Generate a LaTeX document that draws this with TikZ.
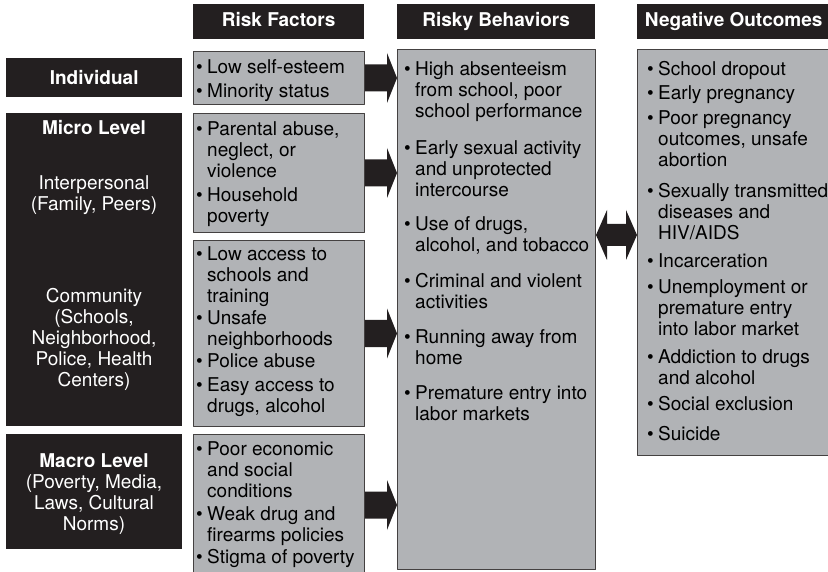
\documentclass[tikz,border=0pt]{standalone}
\usepackage{fontspec}
\setmainfont{TeX Gyre Heros}
\usetikzlibrary{calc}
\definecolor{ink}{RGB}{35,31,32}
\definecolor{boxgray}{RGB}{177,179,182}
\newcommand\bt{\makebox[11pt][l]{\textbullet}}
\newcommand\bi{\hspace*{11pt}}
\begin{document}
\begin{tikzpicture}[x=1pt,y=-1pt,line join=round,
    font=\fontsize{19}{21}\selectfont,
    dark/.style={fill=ink,text=white,inner sep=0pt,anchor=north west},
    colhead/.style={dark,font=\fontsize{19}{21}\selectfont\bfseries,
      minimum height=35pt,text height=13.6pt,text depth=4pt},
    panel/.style={fill=boxgray,draw=ink!85,line width=1pt,inner sep=0pt,anchor=north west},
    items/.style={align=left,inner sep=0pt,anchor=north west},
    lbl/.style={text=white,align=center,inner sep=0pt}]
  \useasboundingbox (0,0) rectangle (828,572);
  % column heads
  \node[colhead,minimum width=171pt] (hrf) at (193,4) {Risk Factors};
  \node[colhead,minimum width=198pt] (hrb) at (397,4) {Risky Behaviors};
  \node[colhead,minimum width=193pt] (hno) at (637,4) {Negative Outcomes};
  % levels
  \node[dark,minimum width=176pt,minimum height=39pt] (ind) at (6,58) {};
  \node[dark,minimum width=176pt,minimum height=313pt] (mic) at (6,113) {};
  \node[dark,minimum width=176pt,minimum height=115pt] (mac) at (6,434) {};
  \node[lbl] (indl) at (ind.center) {\textbf{Individual}};
  \node[lbl] (micl) at (94,128) {\textbf{Micro Level}};
  \node[lbl,anchor=north] (intl) at (94,175.2) {Interpersonal\\(Family, Peers)};
  \node[lbl,anchor=north] (coml) at (94,288.2) {Community\\(Schools,\\Neighborhood,\\Police, Health\\Centers)};
  \node[lbl,anchor=north] (macl) at (94,453.2) {\textbf{Macro Level}\\(Poverty, Media,\\Laws, Cultural\\Norms)};
  % panels
  \node[panel,minimum width=171pt,minimum height=53pt] (rf1) at (193,51) {};
  \node[panel,minimum width=171pt,minimum height=119pt] (rf2) at (193,113) {};
  \node[panel,minimum width=171pt,minimum height=186pt] (rf3) at (193,240) {};
  \node[panel,minimum width=171pt,minimum height=141pt] (rf4) at (193,434) {};
  \node[panel,minimum width=198pt,minimum height=520pt] (rb) at (397,49) {};
  \node[panel,minimum width=193pt,minimum height=406pt] (no) at (637,49) {};
  \node[items] (rf1t) at (196,59.2) {\bt Low self-esteem\\[3pt]\bt Minority status};
  \node[items] (rf2t) at (196,121.2) {\bt Parental abuse,\\\bi neglect, or\\\bi violence\\[3pt]\bt Household\\\bi poverty};
  \node[items] (rf3t) at (196,246.2) {\bt Low access to\\\bi schools and\\\bi training\\[1pt]\bt Unsafe\\\bi neighborhoods\\[1pt]\bt Police abuse\\[3pt]\bt Easy access to\\\bi drugs, alcohol};
  \node[items] (rf4t) at (196,441.2) {\bt Poor economic\\\bi and social\\\bi conditions\\[2pt]\bt Weak drug and\\\bi firearms policies\\[1pt]\bt Stigma of poverty};
  \node[items] (rbt) at (404,61.2) {\bt High absenteeism\\\bi from school, poor\\\bi school performance\\[16pt]\bt Early sexual activity\\\bi and unprotected\\\bi intercourse\\[13pt]\bt Use of drugs,\\\bi alcohol, and tobacco\\[15pt]\bt Criminal and violent\\\bi activities\\[14pt]\bt Running away from\\\bi home\\[14pt]\bt Premature entry into\\\bi labor markets};
  \node[items] (not) at (647,61.2) {\bt School dropout\\[3pt]\bt Early pregnancy\\[4pt]\bt Poor pregnancy\\\bi outcomes, unsafe\\\bi abortion\\[10pt]\bt Sexually transmitted\\\bi diseases and\\\bi HIV/AIDS\\[7pt]\bt Incarceration\\[5pt]\bt Unemployment or\\\bi premature entry\\\bi into labor market\\[7pt]\bt Addiction to drugs\\\bi and alcohol\\[5pt]\bt Social exclusion\\[9pt]\bt Suicide};
  % arrows
  \foreach \i in {1,...,4}
    \fill[ink] ($(rf\i.east)+(0,-13.5)$) -- ($(rb.west|-rf\i.east)+(-10,-13.5)$)
      -- ($(rb.west|-rf\i.east)+(-10,-25)$) -- (rb.west|-rf\i.east)
      -- ($(rb.west|-rf\i.east)+(-10,25)$) -- ($(rb.west|-rf\i.east)+(-10,13.5)$)
      -- ($(rf\i.east)+(0,13.5)$) -- cycle;
  \coordinate (lvl) at (0,235);
  \fill[ink] (rb.east|-lvl) -- ++(11,-25) -- ++(0,14) -- ($(no.west|-lvl)+(-11,-11)$)
    -- ++(0,-14) -- (no.west|-lvl) -- ++(-11,25) -- ++(0,-14)
    -- ($(rb.east|-lvl)+(11,11)$) -- ++(0,14) -- cycle;
\end{tikzpicture}
\end{document}
